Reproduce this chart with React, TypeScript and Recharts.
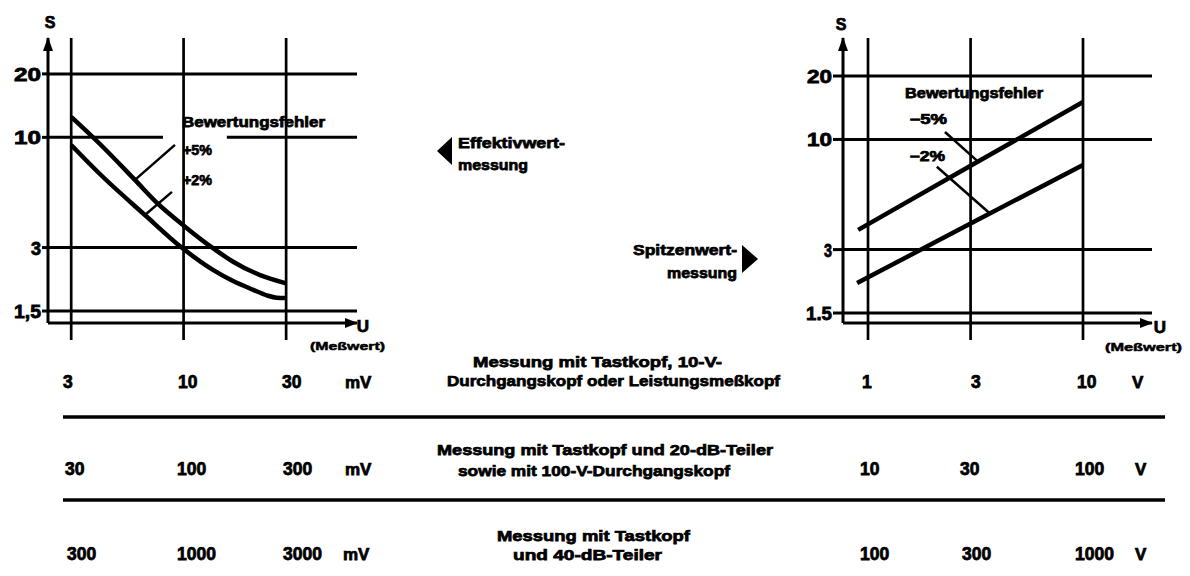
import React from 'react';
import { ComposedChart, Line, XAxis, YAxis, ReferenceLine, ReferenceDot } from 'recharts';

// ---------------- data ----------------
const yTicks = [1.5, 3, 10, 20];
const yTickLabelsLeft = ['1,5', '3', '10', '20'];
const yTickLabelsRight = ['1.5', '3', '10', '20'];
const xGridLeft = [3, 10, 30];
const xGridRight = [1, 3, 10];

// Effektivwertmessung (left), U in mV (first range), S
const rmsPlus5 = [
  { x: 3, s: 12.5 },
  { x: 4.08, s: 9.3 },
  { x: 5.94, s: 6.28 },
  { x: 7.5, s: 4.9 },
  { x: 10.15, s: 3.77 },
  { x: 13.7, s: 2.98 },
  { x: 17, s: 2.57 },
  { x: 22.7, s: 2.22 },
  { x: 30, s: 2.03 },
];
const rmsPlus2 = [
  { x: 3, s: 9.2 },
  { x: 4.08, s: 6.7 },
  { x: 6.61, s: 4.28 },
  { x: 9.8, s: 3.0 },
  { x: 13.7, s: 2.35 },
  { x: 17, s: 2.08 },
  { x: 21.1, s: 1.89 },
  { x: 24.4, s: 1.78 },
  { x: 27.1, s: 1.735 },
  { x: 30, s: 1.73 },
];
// Spitzenwertmessung (right), U in V (first range), S
const peakMinus5 = [
  { x: 0.9, s: 3.72 },
  { x: 3, s: 7.5 },
  { x: 10, s: 15.05 },
];
const peakMinus2 = [
  { x: 0.89, s: 2.08 },
  { x: 3, s: 3.99 },
  { x: 10, s: 7.56 },
];

// leader lines (label -> curve)
const rmsLeader5 = [{ x: 9.12, s: 9.21 }, { x: 5.94, s: 6.28 }];
const rmsLeader2 = [{ x: 8.83, s: 5.51 }, { x: 6.61, s: 4.28 }];
const peakLeader5 = [{ x: 2.28, s: 10.84 }, { x: 3.25, s: 7.85 }];
const peakLeader2 = [{ x: 2.09, s: 7.42 }, { x: 3.69, s: 4.45 }];

// table
const leftRowValues = [['3', '10', '30'], ['30', '100', '300'], ['300', '1000', '3000']];
const rightRowValues = [['1', '3', '10'], ['10', '30', '100'], ['100', '300', '1000']];
const leftUnit = 'mV';
const rightUnit = 'V';
const rowDescriptions = [
  ['Messung mit Tastkopf, 10-V-', 'Durchgangskopf oder Leistungsmeßkopf'],
  ['Messung mit Tastkopf und 20-dB-Teiler', 'sowie mit 100-V-Durchgangskopf'],
  ['Messung mit Tastkopf', 'und 40-dB-Teiler'],
];

// ---------------- layout ----------------
const INK = '#000';
const FONT = "'Liberation Sans', Arial, Helvetica, sans-serif";
const CH_H = 340;
const PLOT_TOP = 38;
const PLOT_BOTTOM = 323;

const ArrowRight = (p: any) => (
  <polygon points={`${p.cx + 1},${p.cy} ${p.cx - 12},${p.cy - 5} ${p.cx - 12},${p.cy + 5}`} fill={INK} />
);
const ArrowUp = (p: any) => (
  <polygon points={`${p.cx},${p.cy - 1} ${p.cx - 5},${p.cy + 13} ${p.cx + 5},${p.cy + 13}`} fill={INK} />
);

function YTick(props: any) {
  const { x, y, payload, labels, widths } = props;
  const i = yTicks.indexOf(payload.value);
  return (
    <text
      x={x}
      y={y + 7}
      textAnchor="end"
      fontFamily={FONT}
      fontWeight={700}
      fontSize={19}
      fill={INK}
      stroke={INK}
      strokeWidth={0.8}
      textLength={widths[i]}
      lengthAdjust="spacingAndGlyphs"
    >
      {labels[i]}
    </text>
  );
}

function Panel(props: any) {
  const { left, width, marginRight, xDomain, yDomain, xGrid, dotY, yLabels, yLabelWidths, tickSize, curves, leaders, tenGap } = props;
  const [x0, x1] = xDomain;
  const [y0, y1] = yDomain;
  const refs: any[] = [];
  yTicks.forEach((v) => {
    if (v === 10 && tenGap) {
      refs.push(
        <ReferenceLine key="g10a" segment={[{ x: x0, y: 10 }, { x: tenGap[0], y: 10 }]} stroke={INK} strokeWidth={3} ifOverflow="visible" />
      );
      refs.push(
        <ReferenceLine key="g10b" segment={[{ x: tenGap[1], y: 10 }, { x: x1, y: 10 }]} stroke={INK} strokeWidth={3} ifOverflow="visible" />
      );
    } else {
      refs.push(<ReferenceLine key={'h' + v} y={v} stroke={INK} strokeWidth={3} ifOverflow="visible" />);
    }
  });
  xGrid.forEach((g: number) => {
    refs.push(
      <ReferenceLine key={'v' + g} segment={[{ x: g, y: y1 }, { x: g, y: dotY }]} stroke={INK} strokeWidth={2.7} ifOverflow="visible" />
    );
    refs.push(<ReferenceDot key={'d' + g} x={g} y={dotY} r={3.6} fill={INK} stroke="none" ifOverflow="visible" />);
  });
  return (
    <div style={{ position: 'absolute', left, top: 0 }}>
      <ComposedChart
        width={width}
        height={CH_H}
        margin={{ top: PLOT_TOP, right: marginRight, bottom: CH_H - PLOT_BOTTOM, left: 0 }}
      >
        <XAxis type="number" dataKey="x" scale="log" domain={xDomain} allowDataOverflow hide />
        <YAxis
          type="number"
          scale="log"
          domain={yDomain}
          allowDataOverflow
          width={48}
          ticks={yTicks}
          interval={0}
          tickSize={tickSize}
          tickMargin={1}
          axisLine={{ stroke: INK, strokeWidth: 3 }}
          tickLine={{ stroke: INK, strokeWidth: 3 }}
          tick={(p: any) => <YTick {...p} labels={yLabels} widths={yLabelWidths} />}
        />
        {refs}
        <ReferenceLine segment={[{ x: x0, y: y0 }, { x: x1, y: y0 }]} stroke={INK} strokeWidth={3} ifOverflow="visible" />
        <ReferenceDot x={x1} y={y0} r={5} ifOverflow="visible" shape={ArrowRight} />
        <ReferenceDot x={x0} y={y1} r={5} ifOverflow="visible" shape={ArrowUp} />
        {leaders.map((l: any, i: number) => (
          <ReferenceLine
            key={'l' + i}
            segment={[{ x: l[0].x, y: l[0].s }, { x: l[1].x, y: l[1].s }]}
            stroke={INK}
            strokeWidth={2.5}
            ifOverflow="visible"
          />
        ))}
        {curves.map((c: any, i: number) => (
          <Line
            key={'c' + i}
            data={c.data}
            dataKey="s"
            type={c.type}
            stroke={INK}
            strokeWidth={4.5}
            dot={false}
            activeDot={false}
            legendType="none"
            isAnimationActive={false}
          />
        ))}
      </ComposedChart>
    </div>
  );
}

const T = (p: any) => (
  <text
    fontFamily={FONT}
    fontWeight={700}
    fill={INK}
    stroke={INK}
    strokeWidth={0.75}
    lengthAdjust="spacingAndGlyphs"
    {...p}
  />
);

const leftColX = [[63, 178, 282, 345], [65, 177, 283, 345], [67, 177, 283, 343]];
const rightColX = [[862, 971, 1077, 1132], [860, 960, 1075, 1135], [860, 962, 1075, 1135]];
const rowBase = [388, 475, 560];
const descLayout = [
  [{ x: 473, y: 367, w: 249 }, { x: 447, y: 386, w: 333 }],
  [{ x: 437, y: 455, w: 336 }, { x: 458, y: 476, w: 272 }],
  [{ x: 497, y: 541, w: 193 }, { x: 513, y: 560, w: 149 }],
];

function Overlay() {
  return (
    <svg width={1190} height={576} style={{ position: 'absolute', left: 0, top: 0, pointerEvents: 'none' }}>
      {/* axis names */}
      <T x={50} y={28} fontSize={16} textAnchor="middle">S</T>
      <T x={841} y={30} fontSize={16} textAnchor="middle">S</T>
      <T x={363} y={332} fontSize={17} textAnchor="middle">U</T>
      <T x={1160} y={333} fontSize={17} textAnchor="middle">U</T>
      <T x={310} y={350} fontSize={11.5} textLength={75} strokeWidth={0.5}>(Meßwert)</T>
      <T x={1105} y={351} fontSize={11.5} textLength={77} strokeWidth={0.5}>(Meßwert)</T>

      {/* curve labels */}
      <T x={182} y={127} fontSize={14.5} textLength={143}>Bewertungsfehler</T>
      <T x={183} y={155} fontSize={14} textLength={29}>+5%</T>
      <T x={183} y={185} fontSize={14} textLength={29}>+2%</T>
      <T x={905} y={98} fontSize={14.5} textLength={138}>Bewertungsfehler</T>
      <T x={910} y={124} fontSize={14} textLength={37}>–5%</T>
      <T x={910} y={161} fontSize={14} textLength={35}>–2%</T>

      {/* middle captions */}
      <polygon points="437,151 452,137 452,165" fill={INK} />
      <T x={458} y={148} fontSize={15} textLength={107}>Effektivwert-</T>
      <T x={458} y={170} fontSize={15} textLength={70}>messung</T>
      <T x={633} y={255} fontSize={15} textLength={104}>Spitzenwert-</T>
      <T x={667} y={278} fontSize={15} textLength={70}>messung</T>
      <polygon points="758,259 742,245 742,273" fill={INK} />

      {/* table rules */}
      <line x1={63} y1={417} x2={1165} y2={417} stroke={INK} strokeWidth={3.5} />
      <line x1={63} y1={500} x2={1165} y2={500} stroke={INK} strokeWidth={3.5} />

      {/* table values */}
      {leftRowValues.map((row, r) => (
        <g key={'lr' + r}>
          {row.map((v, c) => (
            <T key={c} x={leftColX[r][c]} y={rowBase[r]} fontSize={17.5}>{v}</T>
          ))}
          <T x={leftColX[r][3]} y={rowBase[r]} fontSize={17}>{leftUnit}</T>
        </g>
      ))}
      {rightRowValues.map((row, r) => (
        <g key={'rr' + r}>
          {row.map((v, c) => (
            <T key={c} x={rightColX[r][c]} y={rowBase[r]} fontSize={17.5}>{v}</T>
          ))}
          <T x={rightColX[r][3]} y={rowBase[r]} fontSize={17}>{rightUnit}</T>
        </g>
      ))}
      {rowDescriptions.map((lines, r) =>
        lines.map((txt, k) => (
          <T key={'d' + r + k} x={descLayout[r][k].x} y={descLayout[r][k].y} fontSize={15.5} textLength={descLayout[r][k].w}>
            {txt}
          </T>
        ))
      )}
    </svg>
  );
}

export default function App() {
  return (
    <div style={{ position: 'absolute', left: 0, top: 0, width: 1190, height: 576, background: '#fff', overflow: 'hidden' }}>
      <Panel
        left={0}
        width={400}
        marginRight={43}
        xDomain={[2.34, 64.1]}
        yDomain={[1.316, 29.6]}
        xGrid={xGridLeft}
        dotY={0.897}
        yLabels={yTickLabelsLeft}
        yLabelWidths={[27, 10, 27, 27]}
        tickSize={6}
        tenGap={[8.02, 15.9]}
        curves={[
          { data: rmsPlus5, type: 'monotone' },
          { data: rmsPlus2, type: 'monotone' },
        ]}
        leaders={[rmsLeader5, rmsLeader2]}
      />
      <Panel
        left={795}
        width={395}
        marginRight={38}
        xDomain={[0.765, 20.94]}
        yDomain={[1.345, 30.3]}
        xGrid={xGridRight}
        dotY={0.908}
        yLabels={yTickLabelsRight}
        yLabelWidths={[26, 8, 25, 25]}
        tickSize={10}
        tenGap={null}
        curves={[
          { data: peakMinus5, type: 'linear' },
          { data: peakMinus2, type: 'linear' },
        ]}
        leaders={[peakLeader5, peakLeader2]}
      />
      <Overlay />
    </div>
  );
}
